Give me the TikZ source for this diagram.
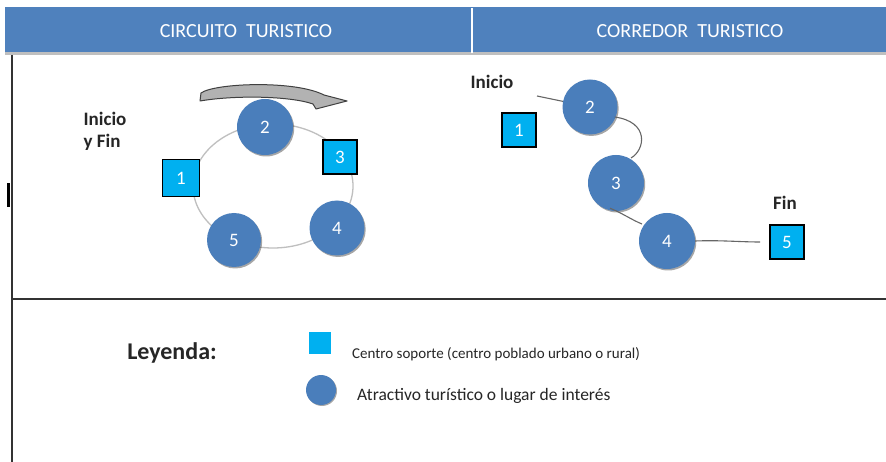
\documentclass[tikz,border=0pt]{standalone}
\usepackage{fontspec}
\setmainfont{Carlito}
\usetikzlibrary{calc,shadows}
\definecolor{hdr}{HTML}{4F81BD}
\definecolor{att}{HTML}{4A7EBB}
\definecolor{sup}{HTML}{00B0F0}
\definecolor{ring}{HTML}{BFBFBF}
\definecolor{txt}{HTML}{262626}
\tikzset{
  attr/.style={circle, fill=att, minimum size=56pt, inner sep=0pt, text=white, font=\fontsize{19}{19}\selectfont,
    drop shadow={shadow xshift=1.2pt, shadow yshift=-1.5pt, opacity=0.35, fill=black}},
  supp/.style={rectangle, fill=sup, draw=black, line width=1.2pt, minimum size=34pt, inner sep=0pt, text=white, font=\fontsize{19}{19}\selectfont},
  lbl/.style={font=\bfseries\fontsize{19}{22}\selectfont, text=txt, align=left},
  hdrtxt/.style={font=\fontsize{20}{20}\selectfont, text=white},
  link/.style={draw=ring, line width=1.3pt},
  link2/.style={draw=gray!80!black, line width=1.1pt},
  frame/.style={draw=black!80, line width=1.2pt}
}
\begin{document}
\begin{tikzpicture}[x=1pt,y=-1pt]
\useasboundingbox (0,0) rectangle (886,462);
\fill[white] (0,0) rectangle (886,462);
% header
\fill[black!25] (5,50) rectangle (886,55);
\fill[hdr] (5,7) rectangle (886,52);
\draw[white, line width=1.3pt] (472,8) -- (472,53);
\node[hdrtxt] (h1) at (246,31) {CIRCUITO\ \ TURISTICO};
\node[hdrtxt] (h2) at (690,31) {CORREDOR\ \ TURISTICO};
% frame lines
\draw[frame] (12,55) -- (12,462);
\draw[frame] (12,299) -- (886,299);
\fill[black] (7,183) rectangle (10,207);
% circuit ring
\draw[link] (273,186) ellipse [x radius=80, y radius=62];
\node[attr, minimum size=56pt] (c2) at (265,127) {2};
\node[supp] (c3) at (340,157) {3};
\node[supp, minimum size=37pt] (c1) at (181,178) {1};
\node[attr, minimum size=55pt] (c4) at (337,228) {4};
\node[attr, minimum size=54pt] (c5) at (234,240) {5};
\node[lbl] (ic) at (105,131) {Inicio\\y Fin};
% curved arrow
\draw[fill=black!30, draw=black!75, line width=1pt, line join=round]
  (200,101) -- (201,93) .. controls (215,83) and (295,80) .. (324,95)
  -- (347,101) -- (316,109) -- (313,104)
  .. controls (290,96) and (235,95) .. (200,101) -- cycle;
% corridor
\node[lbl] (ini) at (492,82) {Inicio};
\coordinate (s0) at (537,96);
\node[supp] (r1) at (519,130) {1};
\node[attr, minimum size=55pt] (r2) at (590,107) {2};
\node[attr, minimum size=56pt] (r3) at (616,183) {3};
\node[attr, minimum size=56pt] (r4) at (667,241) {4};
\node[supp] (r5) at (787,242) {5};
\node[lbl] (fin) at (785,203) {Fin};
\coordinate (e5) at (760,242);
\draw[link2] (s0) -- (r2);
\draw[link2] (r2.east) ++(-3,10) .. controls (650,122) and (645,150) .. (631,158);
\draw[link2] (r3.south) ++(-6,-3) .. controls (622,213) and (632,220) .. (642,224);
\draw[link2] (r4.east) .. controls (720,240) and (740,242) .. (e5);
% legend
\node[font=\bfseries\fontsize{24}{24}\selectfont, text=txt] (ley) at (172,353) {Leyenda:};
\node[rectangle, fill=sup, minimum width=22pt, minimum height=22pt, inner sep=0pt] (lsq) at (320,343) {};
\node[anchor=west, font=\fontsize{15}{15}\selectfont, text=txt, inner sep=0pt] (lt1) at (352,354) {Centro soporte (centro poblado urbano o rural)};
\node[circle, fill=att, minimum size=30pt, inner sep=0pt, drop shadow={shadow xshift=1pt, shadow yshift=-1pt, opacity=0.35, fill=black}] (lci) at (321,390) {};
\node[anchor=west, font=\fontsize{17.5}{17.5}\selectfont, text=txt, inner sep=0pt] (lt2) at (357,396) {Atractivo turístico o lugar de interés};
\end{tikzpicture}
\end{document}
